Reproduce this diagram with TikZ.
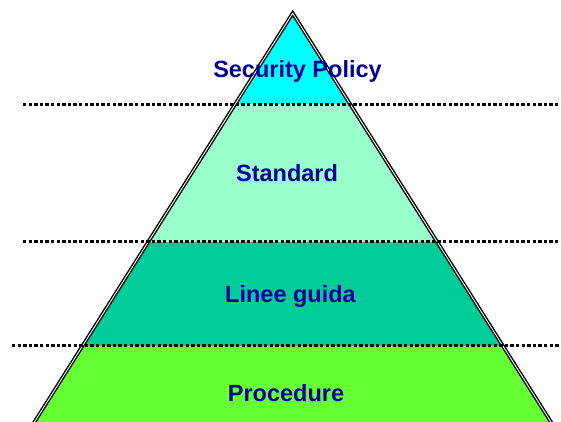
\documentclass[tikz,border=0pt]{standalone}
\usepackage{fontspec}
\setmainfont{Liberation Sans}
\definecolor{topcyan}{RGB}{0,255,255}
\definecolor{mint}{RGB}{153,255,204}
\definecolor{teal}{RGB}{0,204,153}
\definecolor{lime}{RGB}{102,255,51}
\definecolor{labelblue}{RGB}{0,0,153}
\tikzset{
  lbl/.style={anchor=base, inner sep=0pt, text=labelblue, font=\bfseries\fontsize{23.5}{28}\selectfont},
  dotline/.style={line width=3pt, dash pattern=on 3.4pt off 2.2pt},
  outline/.style={line width=1.4pt, double=white, double distance=0.9pt, line join=miter}
}
\begin{document}
\begin{tikzpicture}[x=1pt,y=-1pt]
\useasboundingbox (0,0) rectangle (561,421);
\clip (0,0) rectangle (561,421);
\coordinate (apex) at (292.7,13.2);
\coordinate (bl) at (29.4,430);
\coordinate (br) at (556,430);
\begin{scope}
  \clip (apex) -- (bl) -- (br) -- cycle;
  \fill[topcyan] (0,0) rectangle (561,104);
  \fill[mint] (0,104) rectangle (561,241.5);
  \fill[teal] (0,241.5) rectangle (561,345.5);
  \fill[lime] (0,345.5) rectangle (561,440);
\end{scope}
\draw[outline] (bl) -- (apex) -- (br);
\coordinate (d1a) at (23,104);   \coordinate (d1b) at (561,104);
\coordinate (d2a) at (23,241.5); \coordinate (d2b) at (561,241.5);
\coordinate (d3a) at (12,345.5); \coordinate (d3b) at (561,345.5);
\draw[dotline] (d1a) -- (d1b);
\draw[dotline] (d2a) -- (d2b);
\draw[dotline] (d3a) -- (d3b);
\node[lbl] (sp) at (297.5,77) {Security Policy};
\node[lbl] (st) at (287,181) {Standard};
\node[lbl] (lg) at (290.5,302.3) {Linee guida};
\node[lbl] (pr) at (286,401) {Procedure};
\end{tikzpicture}
\end{document}
